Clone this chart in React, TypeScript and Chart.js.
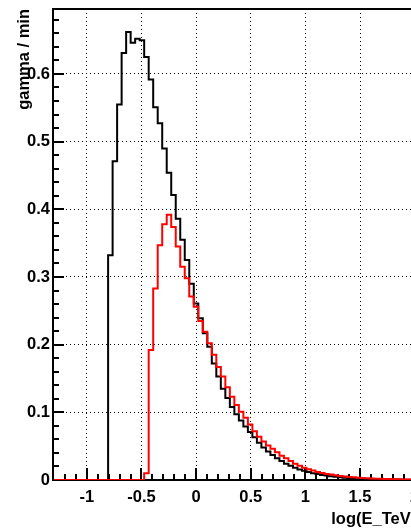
import React, { useEffect, useRef } from 'react';
import { Chart, registerables } from 'chart.js';

Chart.register(...registerables);

// ---- data ----
const X_MIN = -1.3;
const X_MAX = 2.0;
const N_BINS = 80;
const Y_MAX = 0.696;

const xTickValues = [-1, -0.5, 0, 0.5, 1, 1.5, 2];
const xTickLabels = ['-1', '-0.5', '0', '0.5', '1', '1.5', '2'];
const yTickValues = [0, 0.1, 0.2, 0.3, 0.4, 0.5, 0.6];
const yTickLabels = ['0', '0.1', '0.2', '0.3', '0.4', '0.5', '0.6'];

const xTitle = 'log(E_TeV)';
const yTitle = 'gamma / min';

// black histogram (gamma / min per bin)
const blackRate = [
  0, 0, 0, 0, 0, 0, 0, 0, 0, 0, 0, 0,
  0.332, 0.471, 0.555, 0.631, 0.662, 0.646, 0.652, 0.650, 0.625, 0.592,
  0.551, 0.527, 0.490, 0.454, 0.421, 0.386, 0.355, 0.325, 0.290, 0.261,
  0.239, 0.217, 0.197, 0.172, 0.153, 0.135, 0.121, 0.108, 0.097, 0.088,
  0.079, 0.071, 0.063, 0.055, 0.048, 0.042, 0.037, 0.032, 0.028, 0.024,
  0.021, 0.018, 0.0155, 0.0135, 0.0117, 0.0101, 0.0087, 0.0075, 0.0065, 0.0056,
  0.0048, 0.0041, 0.0035, 0.003, 0.0026, 0.0022, 0.0019, 0.0016, 0.0014, 0.0012,
  0.001, 0.0009, 0.0008, 0.0007, 0.0006, 0.0005, 0.0004, 0.0004,
];

// red histogram
const redRate = [
  0, 0, 0, 0, 0, 0, 0, 0, 0, 0, 0, 0, 0, 0, 0, 0, 0, 0, 0, 0,
  0.010, 0.192, 0.283, 0.347, 0.378, 0.392, 0.374, 0.345, 0.315, 0.298,
  0.271, 0.256, 0.235, 0.219, 0.202, 0.185, 0.167, 0.153, 0.137, 0.123,
  0.111, 0.101, 0.092, 0.082, 0.072, 0.064, 0.057, 0.051, 0.046, 0.041,
  0.036, 0.032, 0.028, 0.024, 0.021, 0.018, 0.016, 0.014, 0.012, 0.0105,
  0.009, 0.008, 0.007, 0.006, 0.0052, 0.0045, 0.0039, 0.0034, 0.003, 0.0026,
  0.0023, 0.002, 0.0017, 0.0015, 0.0013, 0.0011, 0.001, 0.0009, 0.0008, 0.0007,
];

const X_MINOR_STEP = 0.1;
const X_MAJOR_STEP = 0.5;
const Y_MINOR_STEP = 0.02;

// one point per bin low edge, plus the upper edge of the last bin
function stepPoints(values: number[]) {
  const w = (X_MAX - X_MIN) / N_BINS;
  const pts = values.map((v, k) => ({ x: X_MIN + k * w, y: v }));
  pts.push({ x: X_MAX, y: values[values.length - 1] });
  return pts;
}

const FONT_FAMILY = '"Liberation Sans", Arial, Helvetica, sans-serif';
const FONT = { family: FONT_FAMILY, size: 16.5, weight: 'bold' as const };

const framePlugin = {
  id: 'rootFrame',
  beforeDatasetsDraw(chart: any) {
    const { ctx, chartArea: a, scales } = chart;
    const xs = scales.x;
    const ys = scales.y;
    ctx.save();
    ctx.strokeStyle = '#000';
    ctx.lineWidth = 2;
    ctx.lineCap = 'butt';
    ctx.beginPath();
    const nx = Math.round((X_MAX - X_MIN) / X_MINOR_STEP);
    for (let i = 1; i < nx; i++) {
      const v = X_MIN + i * X_MINOR_STEP;
      const r = v / X_MAJOR_STEP;
      const major = Math.abs(r - Math.round(r)) < 1e-6;
      const px = Math.round(xs.getPixelForValue(v));
      ctx.moveTo(px, a.bottom);
      ctx.lineTo(px, a.bottom - (major ? 12 : 6));
    }
    const ny = Math.floor(Y_MAX / Y_MINOR_STEP + 1e-6);
    for (let i = 1; i <= ny; i++) {
      const v = i * Y_MINOR_STEP;
      const major = i % 5 === 0;
      const py = Math.round(ys.getPixelForValue(v));
      ctx.moveTo(a.left - 1, py);
      ctx.lineTo(a.left - 1 + (major ? 11 : 6), py);
    }
    ctx.stroke();
    ctx.beginPath();
    ctx.moveTo(a.left - 1, a.bottom);
    ctx.lineTo(a.left - 1, a.top);
    ctx.moveTo(a.left - 2, a.top);
    ctx.lineTo(a.right + 1, a.top);
    ctx.lineTo(a.right + 1, a.bottom);
    ctx.moveTo(a.left - 2, a.bottom);
    ctx.lineTo(a.right + 1, a.bottom);
    ctx.stroke();
    ctx.restore();
  },
  afterDraw(chart: any) {
    const { ctx, chartArea: a } = chart;
    ctx.save();
    ctx.fillStyle = '#000';
    ctx.font = `bold ${FONT.size}px ${FONT_FAMILY}`;
    ctx.textAlign = 'right';
    ctx.textBaseline = 'alphabetic';
    ctx.fillText(xTitle, a.right + 1.5, 523.5);
    ctx.restore();
  },
};

export default function App() {
  const ref = useRef<HTMLCanvasElement | null>(null);

  useEffect(() => {
    if (!ref.current) return;
    const chart = new Chart(ref.current, {
      type: 'line',
      data: {
        datasets: [
          {
            data: stepPoints(redRate),
            stepped: 'before',
            borderColor: '#ff0000',
            borderWidth: 2,
            pointRadius: 0,
            fill: false,
            borderJoinStyle: 'miter',
          },
          {
            data: stepPoints(blackRate),
            stepped: 'before',
            borderColor: '#000000',
            borderWidth: 2,
            pointRadius: 0,
            fill: false,
            borderJoinStyle: 'miter',
          },
        ],
      },
      options: {
        animation: false,
        responsive: false,
        maintainAspectRatio: false,
        devicePixelRatio: 1,
        layout: { padding: { top: 9, right: 25.3, bottom: 0, left: 0 } },
        plugins: { legend: { display: false }, tooltip: { enabled: false } },
        events: [],
        scales: {
          x: {
            type: 'linear',
            min: X_MIN,
            max: X_MAX,
            afterBuildTicks: (s: any) => {
              s.ticks = xTickValues.map((v) => ({ value: v }));
            },
            afterFit: (s: any) => {
              s.height = 48;
              s.paddingLeft = 0;
              s.paddingRight = 0;
              s.paddingTop = 0;
              s.paddingBottom = 0;
            },
            ticks: {
              autoSkip: false,
              maxRotation: 0,
              minRotation: 0,
              padding: 8,
              color: '#000',
              font: FONT,
              callback: (_v: any, i: number) => xTickLabels[i],
            },
            grid: { color: '#000', lineWidth: 1, drawTicks: false },
            border: { display: false, dash: [1, 3] },
            title: { display: false },
          },
          y: {
            type: 'linear',
            min: 0,
            max: Y_MAX,
            afterBuildTicks: (s: any) => {
              s.ticks = yTickValues.map((v) => ({ value: v }));
            },
            afterFit: (s: any) => {
              s.width = 54;
              s.paddingLeft = 0;
              s.paddingRight = 0;
              s.paddingTop = 0;
              s.paddingBottom = 0;
            },
            ticks: {
              autoSkip: false,
              padding: 4,
              color: '#000',
              font: FONT,
              callback: (_v: any, i: number) => yTickLabels[i],
            },
            grid: { color: '#000', lineWidth: 1, drawTicks: false },
            border: { display: false, dash: [1, 3] },
            title: {
              display: true,
              text: yTitle,
              align: 'end',
              color: '#000',
              font: FONT,
              padding: { top: 15, bottom: 0 },
            },
          },
        },
      },
      plugins: [framePlugin],
    } as any);
    return () => chart.destroy();
  }, []);

  return (
    <div
      style={{
        position: 'fixed',
        left: 0,
        top: 0,
        width: 411,
        height: 528,
        overflow: 'hidden',
        background: '#fff',
      }}
    >
      <canvas ref={ref} width={440} height={528} style={{ display: 'block', width: 440, height: 528 }} />
    </div>
  );
}
